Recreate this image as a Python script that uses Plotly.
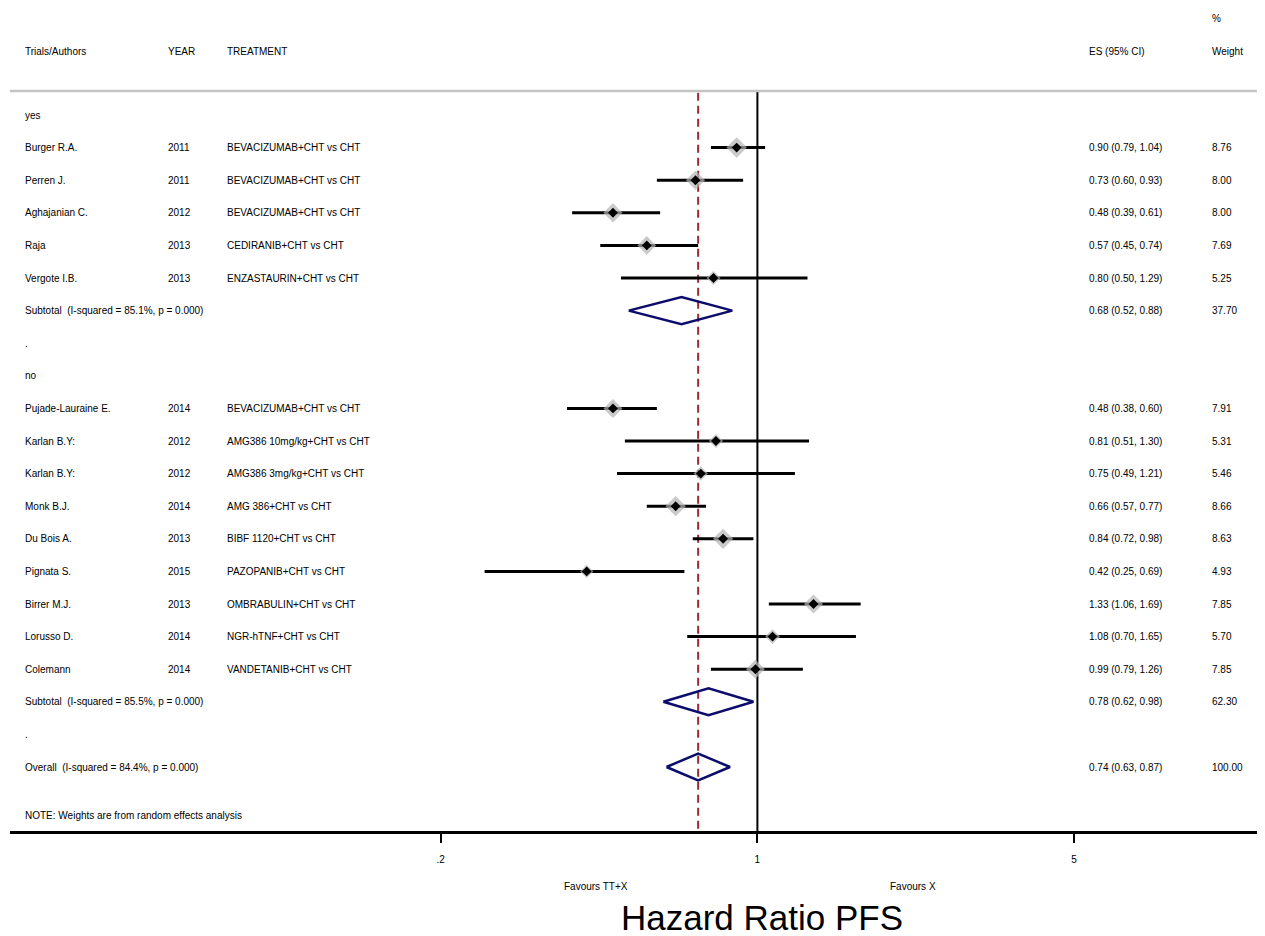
import plotly.graph_objects as go

# ---------------- data ----------------
group_labels = ["yes", "no"]

authors_yes = ["Burger R.A.", "Perren J.", "Aghajanian C.", "Raja", "Vergote I.B."]
years_yes = [2011, 2011, 2012, 2013, 2013]
treat_yes = ["BEVACIZUMAB+CHT vs CHT", "BEVACIZUMAB+CHT vs CHT", "BEVACIZUMAB+CHT vs CHT",
             "CEDIRANIB+CHT vs CHT", "ENZASTAURIN+CHT vs CHT"]
es_yes = [0.90, 0.73, 0.48, 0.57, 0.80]
lo_yes = [0.79, 0.60, 0.39, 0.45, 0.50]
hi_yes = [1.04, 0.93, 0.61, 0.74, 1.29]
w_yes = [8.76, 8.00, 8.00, 7.69, 5.25]

authors_no = ["Pujade-Lauraine E.", "Karlan B.Y:", "Karlan B.Y:", "Monk B.J.", "Du Bois A.",
              "Pignata S.", "Birrer M.J.", "Lorusso D.", "Colemann"]
years_no = [2014, 2012, 2012, 2014, 2013, 2015, 2013, 2014, 2014]
treat_no = ["BEVACIZUMAB+CHT vs CHT", "AMG386 10mg/kg+CHT vs CHT", "AMG386 3mg/kg+CHT vs CHT",
            "AMG 386+CHT vs CHT", "BIBF 1120+CHT vs CHT", "PAZOPANIB+CHT vs CHT",
            "OMBRABULIN+CHT vs CHT", "NGR-hTNF+CHT vs CHT", "VANDETANIB+CHT vs CHT"]
es_no = [0.48, 0.81, 0.75, 0.66, 0.84, 0.42, 1.33, 1.08, 0.99]
lo_no = [0.38, 0.51, 0.49, 0.57, 0.72, 0.25, 1.06, 0.70, 0.79]
hi_no = [0.60, 1.30, 1.21, 0.77, 0.98, 0.69, 1.69, 1.65, 1.26]
w_no = [7.91, 5.31, 5.46, 8.66, 8.63, 4.93, 7.85, 5.70, 7.85]

pooled_labels = ["Subtotal  (I-squared = 85.1%, p = 0.000)",
                 "Subtotal  (I-squared = 85.5%, p = 0.000)",
                 "Overall  (I-squared = 84.4%, p = 0.000)"]
pooled_es = [0.68, 0.78, 0.74]
pooled_lo = [0.52, 0.62, 0.63]
pooled_hi = [0.88, 0.98, 0.87]
pooled_w = [37.70, 62.30, 100.00]

tick_vals = [0.2, 1, 5]
tick_text = [".2", "1", "5"]
note_text = "NOTE: Weights are from random effects analysis"
xlabel = "Hazard Ratio PFS"
favours_left = "Favours TT+X"
favours_right = "Favours X"

# ---------------- layout helpers ----------------
# The page body has an 8px margin, so the figure is drawn 8px in from the window corner.
OFF = 8
WIN_W, WIN_H = 1265, 936
W, H = WIN_W - OFF, WIN_H - OFF
PLOT_LEFT_S, PLOT_BOTTOM_S = 10, 831         # screen pixels
ML = PLOT_LEFT_S - OFF
MR, MT = 0, 0
MB = WIN_H - PLOT_BOTTOM_S
PLOT_W = W - ML - MR
PLOT_H = H - MT - MB
ROW0_S, ROW_PX = 115, 32.6                  # screen pixel centre of row 0 and row spacing
X1_S, DEC_PX = 757.4, 453.1                  # screen x of HR=1 and pixels per decade
FONT = "Liberation Sans, Arial, Helvetica, sans-serif"


def prow(sy):           # screen pixel y -> row coordinate
    return (sy - ROW0_S) / ROW_PX


def pxx(sx):            # screen pixel x -> paper x
    return (sx - OFF - ML) / PLOT_W


def pxy(sy):            # screen pixel y -> paper y
    return (WIN_H - MB - sy) / PLOT_H


# build rows
rows = []
rows.append(dict(kind="group", label=group_labels[0]))
for a, y, t, e, l, h, w in zip(authors_yes, years_yes, treat_yes, es_yes, lo_yes, hi_yes, w_yes):
    rows.append(dict(kind="study", label=a, year=y, treat=t, es=e, lo=l, hi=h, w=w))
rows.append(dict(kind="pooled", label=pooled_labels[0], es=pooled_es[0], lo=pooled_lo[0],
                 hi=pooled_hi[0], w=pooled_w[0]))
rows.append(dict(kind="group", label="."))
rows.append(dict(kind="group", label=group_labels[1]))
for a, y, t, e, l, h, w in zip(authors_no, years_no, treat_no, es_no, lo_no, hi_no, w_no):
    rows.append(dict(kind="study", label=a, year=y, treat=t, es=e, lo=l, hi=h, w=w))
rows.append(dict(kind="pooled", label=pooled_labels[1], es=pooled_es[1], lo=pooled_lo[1],
                 hi=pooled_hi[1], w=pooled_w[1]))
rows.append(dict(kind="group", label="."))
rows.append(dict(kind="pooled", label=pooled_labels[2], es=pooled_es[2], lo=pooled_lo[2],
                 hi=pooled_hi[2], w=pooled_w[2]))

study_idx = [i for i, r in enumerate(rows) if r["kind"] == "study"]
pooled_idx = [i for i, r in enumerate(rows) if r["kind"] == "pooled"]

fig = go.Figure()

y_top = prow(91)
y_bot = prow(PLOT_BOTTOM_S)

# reference lines
fig.add_trace(go.Scatter(x=[1, 1], y=[y_top, y_bot], mode="lines",
                         line=dict(color="black", width=2), hoverinfo="skip", showlegend=False))
overall_es = pooled_es[2]
fig.add_trace(go.Scatter(x=[overall_es, overall_es], y=[y_top + 0.05, y_bot], mode="lines",
                         line=dict(color="#9c2a30", width=2, dash="8px,5px"),
                         hoverinfo="skip", showlegend=False))

# study CIs + gray weight diamonds + black point markers
s_es = [rows[i]["es"] for i in study_idx]
s_w = [rows[i]["w"] for i in study_idx]
ci_x, ci_y = [], []
for i in study_idx:
    ci_x += [rows[i]["lo"], rows[i]["hi"], None]
    ci_y += [i, i, None]
fig.add_trace(go.Scatter(x=ci_x, y=ci_y, mode="lines", line=dict(color="black", width=3),
                         hoverinfo="skip", showlegend=False))
fig.add_trace(go.Scatter(x=s_es, y=study_idx, mode="markers",
                         marker=dict(symbol="diamond", color="#b4b4b4",
                                     size=[3.1 * w ** 0.75 for w in s_w], line=dict(width=0)),
                         showlegend=False))
fig.add_trace(go.Scatter(x=s_es, y=study_idx, mode="markers",
                         marker=dict(symbol="diamond", color="black", size=7.6, line=dict(width=0)),
                         showlegend=False))

# pooled diamonds
dh = 0.414
dx, dy = [], []
for i in pooled_idx:
    r = rows[i]
    dx += [r["lo"], r["es"], r["hi"], r["es"], r["lo"], None]
    dy += [i, i - dh, i, i + dh, i, None]
fig.add_trace(go.Scatter(x=dx, y=dy, mode="lines", line=dict(color="#0c0c6c", width=2.5),
                         hoverinfo="skip", showlegend=False))

# ---------------- text ----------------
ann = []


def txt(x_s, y_row, s, size=10, anchor="left"):
    ann.append(dict(x=pxx(x_s), xref="paper", y=y_row, yref="y", text=s, showarrow=False,
                    xanchor=anchor, yanchor="middle",
                    font=dict(family=FONT, size=size, color="black")))


col_author, col_year, col_treat, col_es, col_w = 23, 166, 225, 1087, 1210
hdr = prow(51)
txt(col_author, hdr, "Trials/Authors")
txt(col_year, hdr, "YEAR")
txt(col_treat, hdr, "TREATMENT")
txt(col_es, hdr, "ES (95% CI)")
txt(col_w, hdr, "Weight")
txt(col_w, prow(18), "%")

for i, r in enumerate(rows):
    lab = r["label"].replace("  ", "\u00a0\u00a0")
    txt(col_author, i, lab)
    if r["kind"] == "study":
        txt(col_year, i, str(r["year"]))
        txt(col_treat, i, r["treat"])
    if r["kind"] in ("study", "pooled"):
        txt(col_es, i, f"{r['es']:.2f} ({r['lo']:.2f}, {r['hi']:.2f})")
        txt(col_w, i, f"{r['w']:.2f}")

txt(col_author, prow(815), note_text)

for xs, s in [(596, favours_left), (913, favours_right)]:
    ann.append(dict(x=pxx(xs), xref="paper", y=pxy(887), yref="paper", text=s, showarrow=False,
                    xanchor="center", yanchor="middle",
                    font=dict(family=FONT, size=10, color="black")))

# axis title (centred as in the reference, not on the plot area)
ann.append(dict(x=pxx(762), xref="paper", y=pxy(918), yref="paper", text=xlabel, showarrow=False,
                xanchor="center", yanchor="middle",
                font=dict(family=FONT, size=35, color="black")))

# gray header separator
shapes = [dict(type="line", xref="paper", x0=0, x1=1, yref="y", y0=y_top, y1=y_top,
               line=dict(color="#c4c4c4", width=2.5))]

x_left = (PLOT_LEFT_S - X1_S) / DEC_PX
x_right = (WIN_W - X1_S) / DEC_PX

fig.update_layout(
    width=W, height=H,
    margin=dict(l=ML, r=MR, t=MT, b=MB),
    paper_bgcolor="white", plot_bgcolor="white",
    showlegend=False,
    annotations=ann, shapes=shapes,
    font=dict(family=FONT, size=10, color="black"),
    xaxis=dict(type="log", range=[x_left, x_right], tickvals=tick_vals, ticktext=tick_text,
               showgrid=False, zeroline=False, showline=True, linecolor="black", linewidth=2.5,
               ticks="outside", ticklen=9, tickwidth=2, tickcolor="black",
               ticklabelstandoff=8,
               tickfont=dict(family=FONT, size=10, color="black")),
    yaxis=dict(range=[prow(PLOT_BOTTOM_S), prow(OFF)], visible=False, showgrid=False,
               zeroline=False),
)

fig.write_html("out.html")
